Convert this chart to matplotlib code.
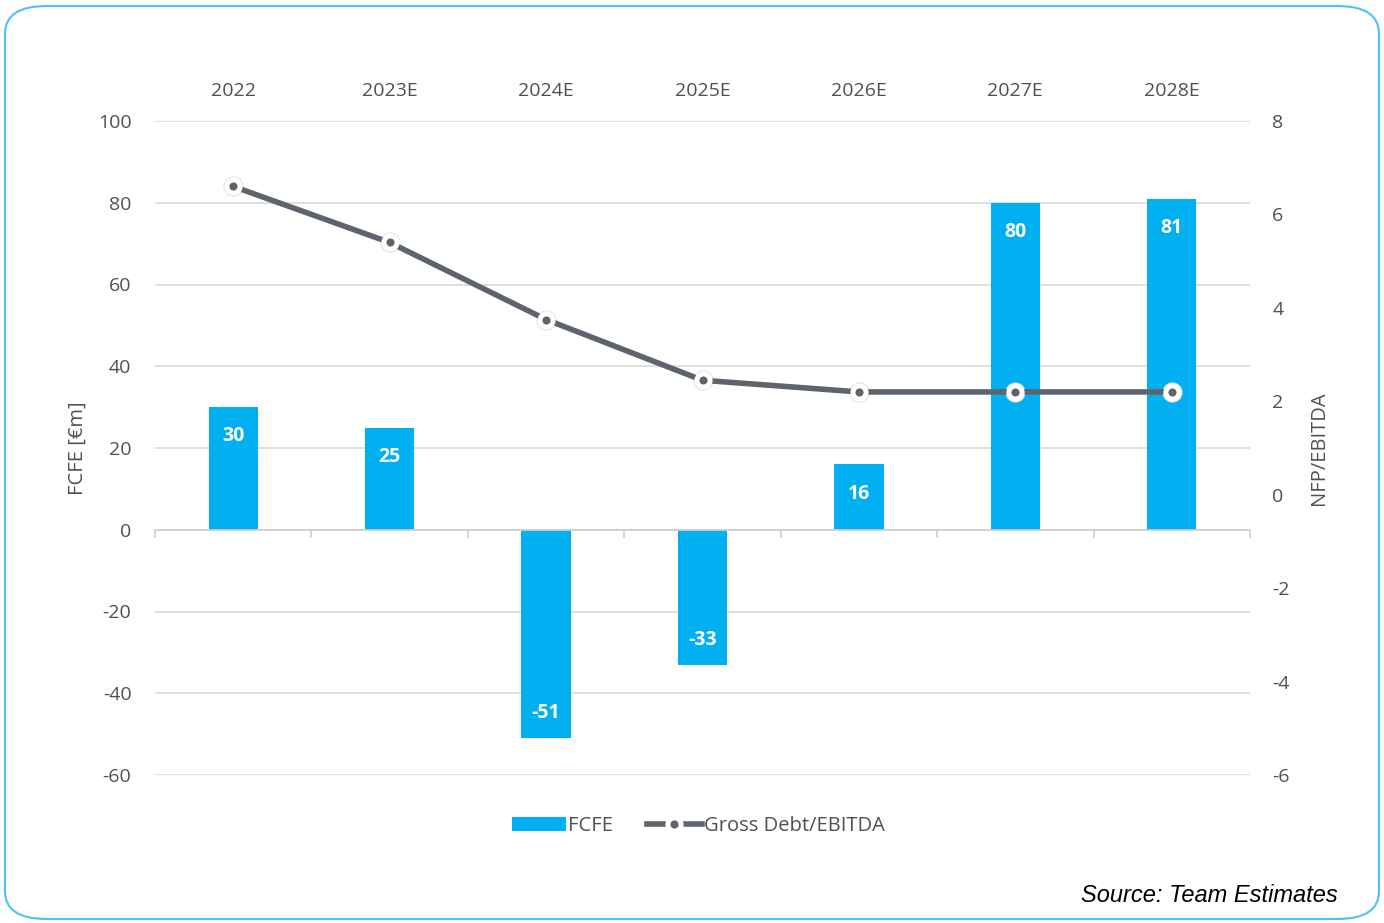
import matplotlib.pyplot as plt
import numpy as np
from matplotlib.patches import FancyBboxPatch

# data
years = ["2022", "2023E", "2024E", "2025E", "2026E", "2027E", "2028E"]
fcfe = [30, 25, -51, -33, 16, 80, 81]
debt_ebitda = [6.6, 5.4, 3.75, 2.45, 2.2, 2.2, 2.2]

bar_color = "#00B0F0"
line_color = "#5E646C"
text_color = "#505050"

plt.rcParams['font.family'] = ['Open Sans', 'DejaVu Sans']
plt.rcParams['axes.unicode_minus'] = False

fig = plt.figure(figsize=(13.84, 9.23), dpi=100)
ax = fig.add_axes([155 / 1384, 1 - 775 / 923, 1095 / 1384, 654 / 923])
ax2 = ax.twinx()

x = np.arange(len(years))
ax.bar(x, fcfe, width=0.315, color=bar_color, zorder=2, label="FCFE")

# value labels inside bars
for xi, v in zip(x, fcfe):
    off = -21 if v >= 0 else 18
    ax.annotate(f"{v}", (xi, v), xytext=(0, off), textcoords="offset points",
                ha="center", va="center", color="white", fontsize=14, fontweight="bold")

ax.set_xlim(-0.5, len(years) - 0.5)
ax.set_ylim(-60, 100)
ax.set_yticks(np.arange(-60, 101, 20))
ax.grid(axis="y", color="#D9D9D9", linewidth=1.2, zorder=0)
ax.set_axisbelow(True)
for s in ["top", "right", "left"]:
    ax.spines[s].set_visible(False)
ax.spines["bottom"].set_position(("data", 0))
ax.spines["bottom"].set_color("#D0D0D0")
ax.spines["bottom"].set_linewidth(1.2)
ax.set_xticks(np.arange(-0.5, len(years), 1))
ax.set_xticklabels([])
ax.tick_params(axis="x", direction="out", length=6, color="#D0D0D0", width=1.2)
ax.tick_params(axis="y", length=0, labelsize=14, labelcolor=text_color, pad=17)
ax.set_ylabel("FCFE [€m]", fontsize=14.5, color=text_color, labelpad=7)

# category labels on top
top = ax.secondary_xaxis("top")
top.set_xticks(x)
top.set_xticklabels(years)
top.tick_params(length=0, labelsize=14, labelcolor=text_color, pad=15)
top.spines["top"].set_visible(False)

# line on right axis
ax2.plot(x, debt_ebitda, linestyle="none", marker="o", markersize=14.5,
         markerfacecolor="#E2E2E2", markeredgecolor="none", zorder=2)
ax2.plot(x, debt_ebitda, color=line_color, linewidth=4, marker="o", markersize=9.5,
         markerfacecolor=line_color, markeredgecolor="white", markeredgewidth=3.6,
         zorder=3, label="Gross Debt/EBITDA")
ax2.set_ylim(-6, 8)
ax2.set_yticks(np.arange(-6, 9, 2))
for s in ["top", "right", "left", "bottom"]:
    ax2.spines[s].set_visible(False)
ax2.tick_params(axis="y", length=0, labelsize=14, labelcolor=text_color, pad=16)
ax2.set_ylabel("NFP/EBITDA", fontsize=14.5, color=text_color, labelpad=14)

# legend
h1, l1 = ax.get_legend_handles_labels()
h2, l2 = ax2.get_legend_handles_labels()
leg = fig.legend(h1 + h2, l1 + l2, loc="center", bbox_to_anchor=(698 / 1384, 1 - 826 / 923),
                 ncol=2, frameon=False, fontsize=14.5, handlelength=2.7, handletextpad=0.1,
                 columnspacing=1.7)
for t in leg.get_texts():
    t.set_color(text_color)

# rounded border
border = FancyBboxPatch((5 / 1384, 4 / 923), 1374 / 1384, 913 / 923,
                        boxstyle="round,pad=0,rounding_size=0.03",
                        transform=fig.transFigure, facecolor="none",
                        edgecolor="#4CC2F8", linewidth=1.5, zorder=10)
fig.patches.append(border)

fig.text(1338 / 1384, 1 - 896 / 923, "Source: Team Estimates", ha="right", va="center",
         fontsize=17, style="italic", color="black", family="Liberation Sans")

fig.savefig("out.png", dpi=100)
